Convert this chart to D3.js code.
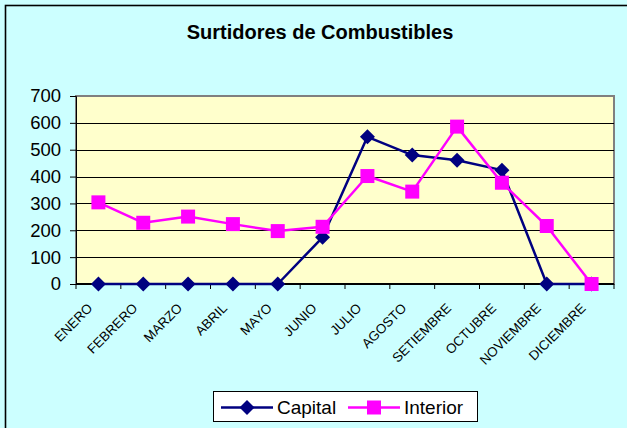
<!DOCTYPE html>
<html>
<head>
<meta charset="utf-8">
<script src="https://cdn.jsdelivr.net/npm/d3@7"></script>
<style>
  html, body { margin: 0; padding: 0; background: #fff; }
  svg { display: block; font-family: "Liberation Sans", Arial, sans-serif; }
</style>
</head>
<body>
<script>
var months = ["ENERO", "FEBRERO", "MARZO", "ABRIL", "MAYO", "JUNIO", "JULIO",
              "AGOSTO", "SETIEMBRE", "OCTUBRE", "NOVIEMBRE", "DICIEMBRE"];
var capital = [0, 0, 0, 0, 0, 174, 548, 480, 461, 424, 0, 0];
var interior = [304, 228, 251, 223, 197, 213, 402, 344, 586, 377, 216, 0];
var yTicks = [0, 100, 200, 300, 400, 500, 600, 700];

var width = 627, height = 428;
var plot = { left: 76, right: 614, top: 96, bottom: 284 };
var font = "'Liberation Sans', Arial, sans-serif";

var svg = d3.select("body").append("svg")
    .attr("width", width)
    .attr("height", height);

// chart background, frame runs off the right and bottom edges
svg.append("rect")
    .attr("x", 0).attr("y", 0)
    .attr("width", width).attr("height", height)
    .attr("fill", "#CCFFFF");
svg.append("rect")
    .attr("x", 5.5).attr("y", 5.5)
    .attr("width", 640).attr("height", 440)
    .attr("fill", "none")
    .attr("stroke", "#000").attr("stroke-width", 1.6);

svg.append("text")
    .attr("x", 320).attr("y", 38.5)
    .attr("text-anchor", "middle")
    .attr("font-size", 20).attr("font-weight", "bold")
    .text("Surtidores de Combustibles");

var x = d3.scaleBand().domain(months).range([plot.left, plot.right]);
var y = d3.scaleLinear().domain([0, 700]).range([plot.bottom, plot.top]);

// plot area
svg.append("rect")
    .attr("x", plot.left).attr("y", plot.top)
    .attr("width", plot.right - plot.left).attr("height", plot.bottom - plot.top)
    .attr("fill", "#FFFFCC")
    .attr("stroke", "#808080").attr("stroke-width", 2);

// gridlines
svg.append("g").selectAll("line")
    .data(yTicks.filter(function(d) { return d > 0 && d < 700; }))
    .enter().append("line")
    .attr("x1", plot.left).attr("x2", plot.right)
    .attr("y1", function(d) { return Math.round(y(d)) + 0.5; })
    .attr("y2", function(d) { return Math.round(y(d)) + 0.5; })
    .attr("stroke", "#000").attr("stroke-width", 1);

// y axis
var yAxis = svg.append("g")
    .attr("transform", "translate(" + plot.left + ",0)")
    .call(d3.axisLeft(y).tickValues(yTicks).tickSize(6).tickPadding(9));
yAxis.select(".domain").attr("stroke", "#000");
yAxis.selectAll("line").attr("stroke", "#000");
yAxis.selectAll("text").attr("font-size", 18.5).attr("fill", "#000")
    .attr("font-family", font);

// x axis
var xg = svg.append("g").attr("transform", "translate(0," + plot.bottom + ")");
xg.append("line")
    .attr("x1", plot.left).attr("x2", plot.right)
    .attr("y1", 0).attr("y2", 0)
    .attr("stroke", "#000").attr("stroke-width", 2);
xg.selectAll(".tick")
    .data(d3.range(months.length + 1))
    .enter().append("line")
    .attr("x1", function(i) { return plot.left + i * x.step(); })
    .attr("x2", function(i) { return plot.left + i * x.step(); })
    .attr("y1", 0).attr("y2", 5)
    .attr("stroke", "#000");
xg.selectAll("text")
    .data(months)
    .enter().append("text")
    .attr("transform", function(d) {
      return "translate(" + (x(d) + x.bandwidth() / 2 - 5) + ",25) rotate(-45)";
    })
    .attr("text-anchor", "end")
    .attr("font-size", 13.3)
    .attr("fill", "#000")
    .text(function(d) { return d; });

var cx = function(d, i) { return x(months[i]) + x.bandwidth() / 2; };
var line = d3.line()
    .x(function(d, i) { return cx(d, i); })
    .y(function(d) { return y(d); });

function drawSeries(data, color, shape) {
  svg.append("path")
      .datum(data)
      .attr("d", line)
      .attr("fill", "none")
      .attr("stroke", color)
      .attr("stroke-width", 2.5)
      .attr("stroke-linejoin", "round");
  svg.append("g").selectAll("path")
      .data(data)
      .enter().append("path")
      .attr("transform", function(d, i) { return "translate(" + cx(d, i) + "," + y(d) + ")"; })
      .attr("d", shape)
      .attr("fill", color);
}

var diamond = "M0,-7.5L7.5,0L0,7.5L-7.5,0Z";
var square = "M-7,-7H7V7H-7Z";
drawSeries(capital, "#000080", diamond);
drawSeries(interior, "#FF00FF", square);

// legend
var lg = svg.append("g");
lg.append("rect")
    .attr("x", 213.5).attr("y", 391.5)
    .attr("width", 264).attr("height", 30)
    .attr("fill", "#fff").attr("stroke", "#000");
var items = [
  { name: "Capital", color: "#000080", shape: diamond, x0: 221 },
  { name: "Interior", color: "#FF00FF", shape: square, x0: 348 }
];
items.forEach(function(it) {
  lg.append("line")
      .attr("x1", it.x0).attr("x2", it.x0 + 52)
      .attr("y1", 407.5).attr("y2", 407.5)
      .attr("stroke", it.color).attr("stroke-width", 2.5);
  lg.append("path")
      .attr("transform", "translate(" + (it.x0 + 26) + ",407.5)")
      .attr("d", it.shape)
      .attr("fill", it.color);
  lg.append("text")
      .attr("x", it.x0 + 56).attr("y", 413.5)
      .attr("font-size", 19)
      .attr("fill", "#000")
      .text(it.name);
});
</script>
</body>
</html>
